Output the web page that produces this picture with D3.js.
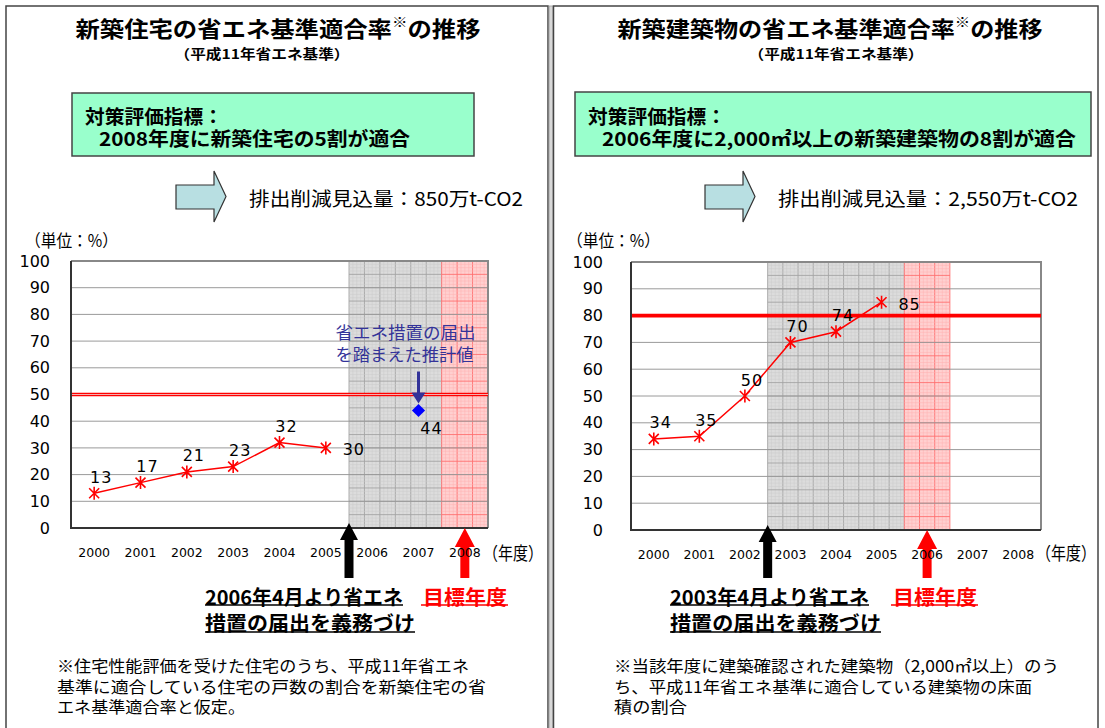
<!DOCTYPE html>
<html><head><meta charset="utf-8">
<script src="https://cdn.jsdelivr.net/npm/d3@7"></script>
<style>body{margin:0;background:#fff}svg{display:block}</style>
</head><body>
<svg id="c" width="1105" height="728"></svg>
<script>
// ---------- data ----------
const years = ["2000","2001","2002","2003","2004","2005","2006","2007","2008"];
const yTicks = [0,10,20,30,40,50,60,70,80,90,100];

const housingYears = ["2000","2001","2002","2003","2004","2005"];
const housingValues = [13,17,21,23,32,30];
const housingEstimateYears = ["2007"];
const housingEstimateValues = [44];
const housingTarget = 50;
const housingRegYear = "2006";
const housingTargetYear = "2008";

const buildingYears = ["2000","2001","2002","2003","2004","2005"];
const buildingValues = [34,35,50,70,74,85];
const buildingTarget = 80;
const buildingRegYear = "2003";
const buildingTargetYear = "2006";

const housingTexts = {
  title: "新築住宅の省エネ基準適合率", titleEnd: "の推移",
  sub: "（平成11年省エネ基準）",
  box1: "対策評価指標：", box2: "2008年度に新築住宅の5割が適合",
  effect: "排出削減見込量：850万t-CO2",
  reg1: "2006年4月より省エネ", reg2: "措置の届出を義務づけ",
  goal: "目標年度",
  note: ["※住宅性能評価を受けた住宅のうち、平成11年省エネ",
         "基準に適合している住宅の戸数の割合を新築住宅の省",
         "エネ基準適合率と仮定。"],
  est: ["省エネ措置の届出", "を踏まえた推計値"]
};
const buildingTexts = {
  title: "新築建築物の省エネ基準適合率", titleEnd: "の推移",
  sub: "（平成11年省エネ基準）",
  box1: "対策評価指標：", box2: "2006年度に2,000㎡以上の新築建築物の8割が適合",
  effect: "排出削減見込量：2,550万t-CO2",
  reg1: "2003年4月より省エネ", reg2: "措置の届出を義務づけ",
  goal: "目標年度",
  note: ["※当該年度に建築確認された建築物（2,000㎡以上）のう",
         "ち、平成11年省エネ基準に適合している建築物の床面",
         "積の割合"]
};
const unitLabel = "（単位：%）";
const yearUnit = "（年度）";

// ---------- drawing ----------
const JA = "'Noto Sans CJK JP', sans-serif";
const NUM = "'DejaVu Sans', sans-serif";
const svg = d3.select("#c");

function txt(g, s, x, y, o = {}) {
  const t = g.append("text").attr("x", x).attr("y", y).text(s)
    .attr("font-family", o.ff || JA).attr("font-size", o.fs || 16)
    .attr("font-weight", o.fw || "normal").attr("fill", o.fill || "#000")
    .attr("dominant-baseline", "central")
    .attr("text-anchor", o.anchor || "start");
  if (o.len) t.attr("textLength", o.len).attr("lengthAdjust", "spacingAndGlyphs");
  if (o.ls) t.attr("letter-spacing", o.ls);
  return t;
}

// panel frames
svg.append("rect").attr("x", 6).attr("y", 6).attr("width", 542).attr("height", 740)
  .attr("fill", "none").attr("stroke", "#444").attr("stroke-width", 1.5);
svg.append("rect").attr("x", 549).attr("y", 6).attr("width", 4).attr("height", 740)
  .attr("fill", "#d8d8d8").attr("stroke", "#999").attr("stroke-width", 0.8);
svg.append("rect").attr("x", 553.5).attr("y", 6).attr("width", 544.5).attr("height", 740)
  .attr("fill", "none").attr("stroke", "#444").attr("stroke-width", 1.5);

function panel(cfg) {
  const T = cfg.texts;
  const g = svg.append("g");
  // title
  const tt = txt(g, T.title, cfg.titleX, 27, {fs: 22, fw: "bold", anchor: "middle", len: cfg.titleLen});
  tt.append("tspan").text("※").attr("font-size", 14).attr("dy", -6);
  tt.append("tspan").text(T.titleEnd).attr("dy", 6);
  txt(g, T.sub, cfg.subX, 53, {fs: 13.5, fw: "bold", anchor: "middle", len: 175});
  // green box
  g.append("rect").attr("x", cfg.box[0]).attr("y", cfg.box[1]).attr("width", cfg.box[2]).attr("height", cfg.box[3])
    .attr("fill", "#99ffcc").attr("stroke", "#444").attr("stroke-width", 1.5);
  txt(g, T.box1, cfg.box[0] + 13, 115, {fs: 19, fw: "bold", len: 138});
  txt(g, T.box2, cfg.box[0] + 27, 137, {fs: 19, fw: "bold", len: cfg.box2Len});
  // block arrow
  const ax = cfg.arrowX;
  g.append("path").attr("d",
    `M${ax},185H${ax+38}V171L${ax+50},196.5L${ax+38},222V209H${ax}Z`)
    .attr("fill", "#b8dfe2").attr("stroke", "#333").attr("stroke-width", 1.2);
  txt(g, T.effect, ax + 73, 197, {fs: 19, len: cfg.effectLen});

  // chart
  const P = cfg.plot;
  const x = d3.scaleBand().domain(years).range([P.x0, P.x1]);
  const y = d3.scaleLinear().domain([0, 100]).range([P.y1, P.y0]);
  const cx = d => x(d) + x.bandwidth() / 2;

  txt(g, unitLabel, cfg.unitX, 239, {fs: 17, len: 93});

  // shaded regions
  function shade(xa, xb, fill, major, minor) {
    const sg = g.append("g");
    sg.append("rect").attr("x", xa).attr("y", y(100)).attr("width", xb - xa).attr("height", y(0) - y(100)).attr("fill", fill);
    const stepX = x.step() / 3;
    const n = Math.round((xb - xa) / stepX);
    for (let i = 0; i <= n * 4; i++) {
      const xx = xa + i * stepX / 4;
      sg.append("line").attr("x1", xx).attr("x2", xx).attr("y1", y(100)).attr("y2", y(0))
        .attr("stroke", i % 4 === 0 ? major : minor).attr("stroke-width", i % 4 === 0 ? 0.9 : 0.5);
    }
    for (let v = 0; v <= 100; v += 1.25) {
      const maj = Math.abs(v % 5) < 1e-9;
      sg.append("line").attr("x1", xa).attr("x2", xb).attr("y1", y(v)).attr("y2", y(v))
        .attr("stroke", maj ? major : minor).attr("stroke-width", maj ? 0.9 : 0.5);
    }
  }
  shade(x(cfg.regYear), x(cfg.targetYear), "#dcdcdc", "#a4a4a4", "#cbcbcb");
  shade(x(cfg.targetYear), x(cfg.targetYear) + x.bandwidth(), "#ffd0d0", "#ff7070", "#ffb0b0");

  // horizontal gridlines
  g.append("g").selectAll("line").data(yTicks.filter(v => v > 0 && v < 100)).join("line")
    .attr("x1", P.x0).attr("x2", P.x1).attr("y1", d => y(d)).attr("y2", d => y(d))
    .attr("stroke", "#9a9a9a").attr("stroke-width", 1);

  // frame
  g.append("path").attr("d", `M${P.x0},${P.y0}H${P.x1}V${P.y1}`).attr("fill", "none")
    .attr("stroke", "#888").attr("stroke-width", 2);
  g.append("path").attr("d", `M${P.x0},${P.y0}V${P.y1}H${P.x1}`).attr("fill", "none")
    .attr("stroke", "#333").attr("stroke-width", 2);

  // target line
  g.append("line").attr("x1", P.x0 + 1).attr("x2", P.x1).attr("y1", y(cfg.target)).attr("y2", y(cfg.target))
    .attr("stroke", "#ff0000").attr("stroke-width", cfg.targetW);
  if (cfg.targetInner) g.append("line").attr("x1", P.x0 + 1).attr("x2", P.x1).attr("y1", y(cfg.target)).attr("y2", y(cfg.target))
    .attr("stroke", cfg.targetInner).attr("stroke-width", 1.2);

  // up arrows below chart (drawn beneath the axis labels)
  function upArrow(ax, tip, color, hw, hl) {
    g.append("path").attr("d",
      `M${ax},${tip}L${ax+hw},${tip+hl}H${ax+4.5}V578H${ax-4.5}V${tip+hl}H${ax-hw}Z`).attr("fill", color);
  }
  upArrow(x(cfg.regYear), P.y1 - 5, "#000", 9, 17);
  upArrow(cx(cfg.targetYear), P.y1, "#ff0000", 10, 19);

  // axes
  const ya = g.append("g").attr("transform", `translate(${P.x0},0)`)
    .call(d3.axisLeft(y).tickValues(yTicks).tickSize(0).tickPadding(cfg.yPad));
  ya.select(".domain").remove();
  ya.selectAll("text").attr("font-family", NUM).attr("font-size", 16).attr("fill", "#000");
  const xa = g.append("g").attr("transform", `translate(0,${P.y1})`)
    .call(d3.axisBottom(x).tickSize(0).tickPadding(20));
  xa.select(".domain").remove();
  xa.selectAll("text").attr("font-family", NUM).attr("font-size", 12.5).attr("fill", "#000");
  txt(g, yearUnit, cfg.yearUnitX, 552, {fs: 18, len: 60});

  // series line + markers
  const pts = cfg.cats.map((c, i) => [cx(c), y(cfg.vals[i])]);
  g.append("path").attr("d", d3.line()(pts)).attr("fill", "none").attr("stroke", "#ff0000").attr("stroke-width", 1.5);
  g.append("g").selectAll("path").data(pts).join("path")
    .attr("transform", d => `translate(${d[0]},${d[1]})`)
    .attr("d", "M-5,-5L5,5M-5,5L5,-5M0,-6.5V6.5")
    .attr("stroke", "#ff0000").attr("stroke-width", 1.6).attr("fill", "none");
  cfg.vals.forEach((v, i) => {
    const last = i === cfg.vals.length - 1;
    const [px, py] = pts[i];
    txt(g, String(v), px + (last ? 28 : 7), py + (last ? 2 : -16),
      {ff: NUM, fs: 16, anchor: "middle", ls: 1});
  });

  // estimate points
  if (cfg.estCats) {
    cfg.estCats.forEach((c, i) => {
      const px = cx(c), py = y(cfg.estVals[i]);
      g.append("path").attr("d", d3.symbol(d3.symbolDiamond2, 110)()).attr("transform", `translate(${px},${py})`)
        .attr("fill", "#0000ff");
      txt(g, String(cfg.estVals[i]), px + 13, py + 18, {ff: NUM, fs: 16, anchor: "middle", ls: 1});
      g.append("line").attr("x1", px).attr("x2", px).attr("y1", py - 39).attr("y2", py - 16)
        .attr("stroke", "#333399").attr("stroke-width", 3);
      g.append("path").attr("d", `M${px-7},${py-18}L${px+7},${py-18}L${px},${py-7}Z`).attr("fill", "#333399");
      txt(g, T.est[0], px - 13, py - 79, {fs: 16.5, anchor: "middle", fill: "#333399", len: 140});
      txt(g, T.est[1], px - 14, py - 57, {fs: 16.5, anchor: "middle", fill: "#333399", len: 138});
    });
  }

  // annotations
  const ax0 = cfg.regTextX;
  txt(g, T.reg1, ax0, 596, {fs: 20, fw: "bold", len: cfg.reg1Len});
  g.append("line").attr("x1", ax0).attr("x2", ax0 + cfg.reg1Len).attr("y1", 605).attr("y2", 605).attr("stroke", "#000").attr("stroke-width", 1.6);
  txt(g, T.reg2, ax0, 622, {fs: 20, fw: "bold", len: cfg.reg2Len});
  g.append("line").attr("x1", ax0).attr("x2", ax0 + cfg.reg2Len).attr("y1", 632).attr("y2", 632).attr("stroke", "#000").attr("stroke-width", 1.6);
  txt(g, T.goal, cfg.goalX, 596, {fs: 20, fw: "bold", fill: "#ff0000", len: 84});
  g.append("line").attr("x1", cfg.goalX - 2).attr("x2", cfg.goalX + 85).attr("y1", 605).attr("y2", 605).attr("stroke", "#ff0000").attr("stroke-width", 1.6);

  // footnote
  T.note.forEach((s, i) => txt(g, s, cfg.noteX, 665 + i * 20.5, {fs: 16, len: cfg.noteLens[i]}));
}

panel({
  texts: housingTexts, titleX: 278, titleLen: 405, subX: 262,
  box: [72, 93, 402, 63], box2Len: 311, arrowX: 176, effectLen: 274,
  plot: {x0: 71, x1: 488, y0: 261, y1: 528}, unitX: 25, yPad: 21, yearUnitX: 483,
  cats: housingYears, vals: housingValues, estCats: housingEstimateYears, estVals: housingEstimateValues,
  target: housingTarget, targetW: 3.6, targetInner: "#f4b0b0",
  regYear: housingRegYear, targetYear: housingTargetYear,
  regTextX: 205, reg1Len: 198, reg2Len: 210, goalX: 423,
  noteX: 57, noteLens: [412, 429, 188]
});
panel({
  texts: buildingTexts, titleX: 830, titleLen: 425, subX: 836,
  box: [575, 92, 516, 64], box2Len: 474, arrowX: 705, effectLen: 300,
  plot: {x0: 631, x1: 1041, y0: 262, y1: 530}, unitX: 567, yPad: 28, yearUnitX: 1036,
  cats: buildingYears, vals: buildingValues,
  target: buildingTarget, targetW: 3.6,
  regYear: buildingRegYear, targetYear: buildingTargetYear,
  regTextX: 670, reg1Len: 199, reg2Len: 211, goalX: 893,
  noteX: 614, noteLens: [445, 418, 73]
});
</script>
</body></html>
